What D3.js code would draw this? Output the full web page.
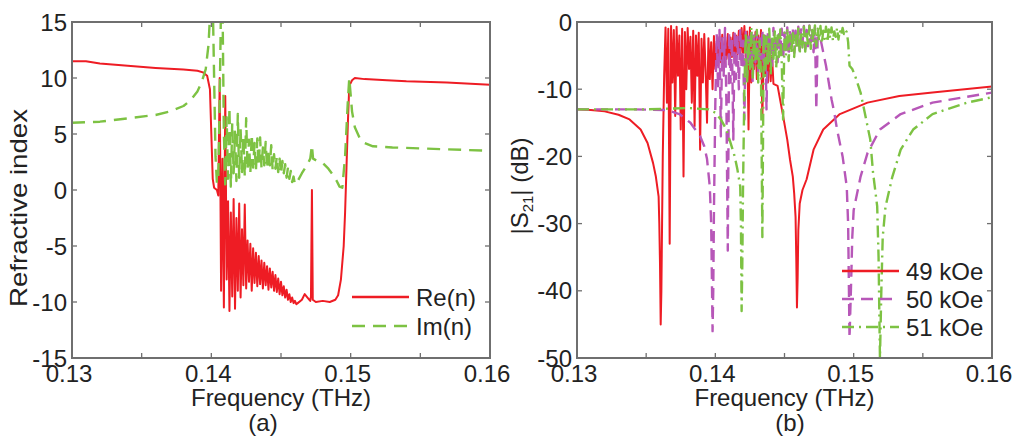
<!DOCTYPE html>
<html>
<head>
<meta charset="utf-8">
<script src="https://cdn.jsdelivr.net/npm/d3@7"></script>
<style>
body { margin: 0; background: #fff; }
text { font-family: "Liberation Sans", Arial, sans-serif; fill: #222; }
</style>
</head>
<body>
<div id="chart"></div>
<script>
// Shared frequency axis (THz)
var freqTicks = [0.13, 0.14, 0.15, 0.16];
var freqMinor = [0.13, 0.135, 0.14, 0.145, 0.15, 0.155, 0.16];
var indexTicks = [15, 10, 5, 0, -5, -10, -15];
var dbTicks = [0, -10, -20, -30, -40, -50];
var noiseStep = 0.0001;

// (a) Re(n)
var reStart = [[0.13, 11.5], [0.131, 11.5], [0.132, 11.3], [0.134, 11.1], [0.136, 10.9], [0.138, 10.75],
    [0.139, 10.65], [0.1394, 10.5], [0.1397, 10.2], [0.1399, 9], [0.14, 5], [0.1401, 1], [0.1402, 0.2], [0.1404, 0]];
var reNoiseF0 = 0.1405;
var reNoise = [-0.5, 10, -9, 2.8, -10.5, 8.4, -8, -1, -10.8, -2, -9.5, -0.8, -10.6, -2.5, -9, -1.2, -9.6, -3.5, -8.5, -1.3,
    -8.8, -4.5, -8.2, -4.8, -9, -5.2, -8.3, -5.6, -8.6, -5.9, -8.4, -6.3, -8.8, -6.5, -8.5, -6.8, -8.9, -7.0, -8.7, -7.3,
    -9.0, -7.6, -9.1, -7.9, -9.3, -8.2, -9.4, -8.6, -9.6, -8.9, -9.8, -9.3, -10, -9.6, -10.1, -9.9, -10.2];
var reEnd = [[0.1462, -10.1], [0.1465, -9.8], [0.1467, -9.3], [0.1469, -9.6], [0.1471, -9.9], [0.14715, -9.5], [0.14722, 0],
    [0.14728, -9.8], [0.1475, -10], [0.148, -9.9], [0.1485, -10], [0.1489, -9.8], [0.1491, -9.4], [0.1493, -8], [0.1495, -5],
    [0.1496, -2], [0.1497, 2], [0.1498, 6], [0.1499, 9.3], [0.1501, 9.8], [0.1503, 10], [0.151, 9.9], [0.1526, 9.8],
    [0.154, 9.7], [0.1569, 9.6], [0.16, 9.4]];

// (a) Im(n)
var imStart = [[0.13, 6.0], [0.132, 6.1], [0.134, 6.4], [0.136, 6.7], [0.137, 7.0], [0.138, 7.5], [0.1385, 8.0], [0.139, 8.8],
    [0.1393, 9.6], [0.1396, 10.8], [0.1398, 13], [0.1399, 15.5], [0.14, 18], [0.1401, 17], [0.1402, 10], [0.1403, 3],
    [0.1404, 0.6], [0.1405, 1], [0.1406, 8], [0.1407, 17], [0.1408, 17], [0.1409, 5]];
var imNoiseF0 = 0.141;
var imNoise = [0.5, 6.5, 1.0, 7.4, 0.3, 6.0, 1.5, 5.2, 0.8, 6.8, 1.1, 5.5, 1.6, 4.8, 1.2, 6.4, 1.8, 4.5, 1.5, 5.0,
    2.0, 4.2, 1.7, 4.6, 2.1, 4.7, 2.0, 3.8, 2.2, 4.3, 1.9, 3.6, 2.2, 4.0, 1.8, 3.2, 1.9, 3.0, 1.6, 2.8,
    1.4, 2.6, 1.5, 2.3, 1.1, 2.0, 1.0, 1.7, 0.7, 1.2, 0.5];
var imEnd = [[0.1462, 0.8], [0.1465, 1.5], [0.1469, 2.3], [0.1471, 2.8], [0.14722, 4.0], [0.1473, 2.8], [0.1476, 2.6],
    [0.148, 2.4], [0.1484, 1.9], [0.1487, 1.4], [0.149, 0.8], [0.1492, 0.3], [0.1494, 0.2], [0.1496, 3], [0.1498, 8],
    [0.1499, 10], [0.1501, 7], [0.1503, 5.6], [0.1507, 4.5], [0.151, 4.2], [0.1516, 3.9], [0.153, 3.8], [0.16, 3.5]];

// (b) |S21| at 49 kOe
var s49Start = [[0.13, -13], [0.131, -13.1], [0.132, -13.3], [0.133, -13.8], [0.1338, -14.5], [0.1346, -16], [0.1351, -18],
    [0.1355, -21], [0.1357, -23], [0.1359, -26], [0.13595, -30], [0.136, -36], [0.13605, -45], [0.1361, -40], [0.13615, -30],
    [0.1362, -20], [0.1363, -8]];
var s49NoiseF0 = 0.1364;
var s49Noise = [-0.8, -12, -1, -33, -0.6, -9, -1.2, -14, -0.7, -8, -2, -16, -1, -23, -1.5, -10, -0.9, -7, -2.2, -12,
    -1.3, -15.5, -2, -8, -1.6, -19, -2.5, -9, -1.8, -7.5, -15, -2.4, -8.5, -3, -10, -2.1, -7, -3.2, -6.5, -2.2,
    -6, -1.9, -7.2, -2.6, -5.5, -1.8, -6.3, -2.3, -5.2, -1.6, -5.8, -2.0, -4.8, -1.3, -5.5, -0.9, -4.6, -0.6, -5.2, -1.4,
    -16, -0.8, -9, -2.5, -7, -1.5, -8.5, -2, -6, -1.2, -14.5, -2, -8, -2.6, -9, -3.5, -8.8, -5, -9.2];
var s49End = [[0.1445, -9.5], [0.1449, -14], [0.1452, -17.5], [0.1454, -20.5], [0.1456, -23], [0.1457, -25.5],
    [0.1458, -29], [0.14585, -35], [0.1459, -42.5], [0.14595, -38], [0.146, -31], [0.1461, -27], [0.1463, -25],
    [0.1466, -23.4], [0.1471, -19], [0.1478, -16], [0.149, -13.7], [0.151, -12], [0.1533, -11], [0.1557, -10.5], [0.16, -9.6]];

// (b) |S21| at 50 kOe
var s50Start = [[0.13, -13], [0.134, -13], [0.1365, -13.1], [0.1374, -13.7], [0.1382, -15], [0.1389, -17], [0.1392, -18.5],
    [0.1394, -20.4], [0.1396, -24.5], [0.1397, -30], [0.1398, -46], [0.13985, -40], [0.1399, -28], [0.14, -12]];
var s50NoiseF0 = 0.1401;
var s50Noise = [-1.8, -10, -1.2, -17, -2, -8, -0.9, -12, -34, -1.5, -9, -2.5, -17.5, -1.2, -8.5, -2, -10, -1, -7, -2.8,
    -14.5, -1.5, -8, -2.2, -6.5, -1, -9, -2, -6, -1.3, -7.5, -2.4, -5.5, -1.1, -6.8, -1.8, -13, -1.2, -5.8, -2.2,
    -6.5, -0.9, -5, -1.8, -6, -1.4, -4.5, -1, -5.5, -1.6, -4.2, -0.8, -5, -1.5, -3.8, -0.9, -4.6, -1.3, -3.5, -0.7,
    -4.2, -1.1, -3.2, -0.6, -4, -1.2, -3.6, -0.5, -3, -1, -4.5, -0.8, -13];
var s50End = [[0.1474, -2], [0.1476, -2.5], [0.1478, -4.5], [0.148, -6.5], [0.1482, -9], [0.1484, -11.5], [0.1486, -13.5],
    [0.1488, -16], [0.1492, -20], [0.1495, -24.5], [0.1496, -30], [0.1497, -47], [0.1498, -40], [0.1499, -32], [0.15, -28],
    [0.1505, -23], [0.151, -19.5], [0.1519, -16], [0.1534, -13.7], [0.1557, -12], [0.16, -10.5]];

// (b) |S21| at 51 kOe
var s51Start = [[0.13, -13], [0.135, -13], [0.138, -12.8], [0.1395, -13], [0.14, -13.5], [0.1404, -14.5], [0.1408, -16],
    [0.1411, -18], [0.1414, -20], [0.1416, -22], [0.1418, -24.5], [0.14185, -30], [0.1419, -43], [0.14195, -36],
    [0.142, -25], [0.1421, -10]];
var s51NoiseF0 = 0.1422;
var s51Noise = [-1.5, -9, -2.5, -7, -0.8, -8.5, -2, -6, -1.2, -9, -2.8, -7.5, -32, -1.5, -8, -2.2, -6.5, -1, -7.8, -2.5,
    -5.5, -1.4, -6.8, -2, -5.2, -1.1, -6, -14.5, -1.6, -5, -0.9, -5.8, -2, -4.5, -1.2, -5.2, -1.8, -4, -0.8, -4.8,
    -1.5, -3.8, -0.7, -4.4, -1.4, -3.5, -0.6, -4, -1.2, -3.2, -0.5, -3.6, -1, -2.8, -0.6, -3.2, -1.3, -2.5, -0.7, -3,
    -1.1, -2.4, -0.8, -2.8, -1.4, -2.2, -0.9, -2.6, -1.2, -2, -0.9, -1.8, -1.2, -1.5];
var s51End = [[0.1496, -3], [0.1497, -6.5], [0.1499, -7], [0.1501, -8], [0.1505, -10.5], [0.1507, -12.5], [0.1512, -17.5],
    [0.1514, -22.4], [0.1517, -27.4], [0.1518, -35], [0.1519, -50], [0.152, -40], [0.1521, -32], [0.1523, -27.5],
    [0.1528, -23], [0.1534, -19], [0.1543, -16], [0.1557, -13.7], [0.1582, -12], [0.16, -11.2]];

// Join smooth parts and the fast-oscillating stretch
function joinSeries(start, f0, noise, end) {
    var mid = noise.map(function(v, i) { return [f0 + i * noiseStep, v]; });
    return start.concat(mid).concat(end);
}

var svgWidth = 1026;
var svgHeight = 440;
var red = "#ee1c24", green = "#7dc243", purple = "#b757b8", axisGray = "#6f6f6f";

var svg = d3.select("#chart")
    .append("svg")
    .attr("width", svgWidth)
    .attr("height", svgHeight);

function drawPanel(p) {
    var x = d3.scaleLinear().domain([0.13, 0.16]).range([p.left, p.right]);
    var y = d3.scaleLinear().domain(p.yDomain).range([p.bottom, p.top]);
    var g = svg.append("g");

    g.append("clipPath").attr("id", p.id)
        .append("rect")
        .attr("x", p.left).attr("y", p.top)
        .attr("width", p.right - p.left).attr("height", p.bottom - p.top);

    var line = d3.line().x(d => x(d[0])).y(d => y(d[1]));

    var plot = g.append("g").attr("clip-path", `url(#${p.id})`);
    p.series.forEach(function(s) {
        plot.append("path")
            .datum(s.data)
            .attr("fill", "none")
            .attr("stroke", s.color)
            .attr("stroke-width", s.width)
            .attr("stroke-dasharray", s.dash)
            .attr("stroke-linejoin", "round")
            .attr("d", line);
    });

    // Inward ticks on all four sides
    var ticks = g.append("g").attr("stroke", axisGray).attr("stroke-width", 1.3);
    freqMinor.forEach(function(f) {
        ticks.append("line").attr("x1", x(f)).attr("x2", x(f)).attr("y1", p.bottom).attr("y2", p.bottom - 5);
        ticks.append("line").attr("x1", x(f)).attr("x2", x(f)).attr("y1", p.top).attr("y2", p.top + 5);
    });
    p.yTicks.forEach(function(v) {
        ticks.append("line").attr("x1", p.left).attr("x2", p.left + 5).attr("y1", y(v)).attr("y2", y(v));
        ticks.append("line").attr("x1", p.right).attr("x2", p.right - 5).attr("y1", y(v)).attr("y2", y(v));
    });

    g.append("rect")
        .attr("x", p.left).attr("y", p.top)
        .attr("width", p.right - p.left).attr("height", p.bottom - p.top)
        .attr("fill", "none")
        .attr("stroke", axisGray)
        .attr("stroke-width", 2);

    // Tick labels
    g.selectAll(".xlab")
        .data(freqTicks)
        .enter()
        .append("text")
        .attr("x", d => x(d) - 3)
        .attr("y", 382)
        .attr("text-anchor", "middle")
        .attr("font-size", "24px")
        .text(d => d3.format(".2f")(d));

    g.selectAll(".ylab")
        .data(p.yTicks)
        .enter()
        .append("text")
        .attr("x", p.left - 5)
        .attr("y", d => y(d))
        .attr("dy", "0.36em")
        .attr("text-anchor", "end")
        .attr("font-size", "24px")
        .text(d => d);

    g.append("text")
        .attr("x", (p.left + p.right) / 2)
        .attr("y", 406)
        .attr("text-anchor", "middle")
        .attr("font-size", "24px")
        .text("Frequency (THz)");

    g.append("text")
        .attr("x", p.capX)
        .attr("y", 431)
        .attr("text-anchor", "middle")
        .attr("font-size", "24px")
        .text(p.caption);

    // Legend (no box)
    p.series.forEach(function(s, i) {
        var ly = p.legendY[i];
        g.append("line")
            .attr("x1", p.legendX).attr("x2", p.legendX + 57)
            .attr("y1", ly).attr("y2", ly)
            .attr("stroke", s.color)
            .attr("stroke-width", s.width + 0.3)
            .attr("stroke-dasharray", s.dash);
        g.append("text")
            .attr("x", p.legendX + 64)
            .attr("y", ly)
            .attr("dy", "0.36em")
            .attr("font-size", "24px")
            .text(s.name);
    });
    return g;
}

drawPanel({
    id: "clipA", left: 72, right: 490, top: 22, bottom: 358,
    yDomain: [-15, 15], yTicks: indexTicks,
    caption: "(a)", capX: 263,
    legendX: 352, legendY: [297, 326],
    series: [
        { name: "Re(n)", data: joinSeries(reStart, reNoiseF0, reNoise, reEnd), color: red, width: 2, dash: null },
        { name: "Im(n)", data: joinSeries(imStart, imNoiseF0, imNoise, imEnd), color: green, width: 2.4, dash: "13,8" }
    ]
});

drawPanel({
    id: "clipB", left: 577, right: 992, top: 22, bottom: 358,
    yDomain: [-50, 0], yTicks: dbTicks,
    caption: "(b)", capX: 790,
    legendX: 842, legendY: [271, 299, 327],
    series: [
        { name: "49 kOe", data: joinSeries(s49Start, s49NoiseF0, s49Noise, s49End), color: red, width: 2, dash: null },
        { name: "50 kOe", data: joinSeries(s50Start, s50NoiseF0, s50Noise, s50End), color: purple, width: 2.4, dash: "12,7" },
        { name: "51 kOe", data: joinSeries(s51Start, s51NoiseF0, s51Noise, s51End), color: green, width: 2.4, dash: "12,5,2,5" }
    ]
});

// Y axis titles
svg.append("text")
    .attr("transform", "translate(27, 208) rotate(-90)")
    .attr("text-anchor", "middle")
    .attr("font-size", "24px")
    .attr("textLength", 198)
    .attr("lengthAdjust", "spacingAndGlyphs")
    .text("Refractive index");

var s21Label = svg.append("text")
    .attr("transform", "translate(528, 186) rotate(-90)")
    .attr("text-anchor", "middle")
    .attr("font-size", "24px");
s21Label.append("tspan").text("|S");
s21Label.append("tspan").attr("font-size", "15px").attr("dy", 5).text("21");
s21Label.append("tspan").attr("dy", -5).text("| (dB)");
</script>
</body>
</html>
